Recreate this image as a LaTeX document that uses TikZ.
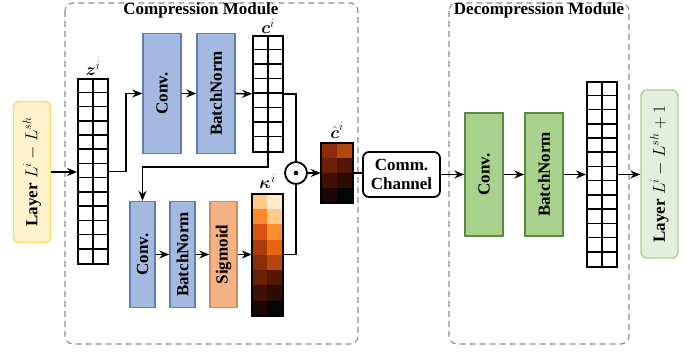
\documentclass[tikz,border=0pt]{standalone}
\usepackage{fontspec}
\setmainfont{Liberation Serif}
\usepackage{amsmath, amssymb}
\usepackage{graphicx}
\usepackage{xcolor}
\usepackage{tikz}
\usetikzlibrary{arrows.meta, positioning, calc}

\definecolor{convblue}{HTML}{A3B9DF}
\definecolor{convblueline}{HTML}{5D7EB3}
\definecolor{sigorange}{HTML}{F4B183}
\definecolor{sigorangeline}{HTML}{D38A5C}
\definecolor{decgreen}{HTML}{A9D18E}
\definecolor{decgreenline}{HTML}{5B8A3C}
\definecolor{inyellow}{HTML}{FFF2CC}
\definecolor{inyellowline}{HTML}{FFD966}
\definecolor{outgreen}{HTML}{E2EFDA}
\definecolor{outgreenline}{HTML}{A9D18E}

\begin{document}
\begin{tikzpicture}[
				x=1pt, y=-1pt,
				every node/.style={font=\bfseries\fontsize{17}{21}\selectfont},
				modbox/.style={draw=black!45, line width=1.1pt, rounded corners=8pt, dash pattern=on 6pt off 4pt},
				title/.style={inner sep=0pt},
				layerbox/.style={line width=1.4pt, rounded corners=6pt, minimum width=37pt, inner sep=0pt},
				opbox/.style={line width=1.4pt, inner sep=0pt},
				grid/.style={draw, line width=1.8pt, minimum width=30pt, inner sep=0pt},
				cellline/.style={line width=1.5pt},
				lbl/.style={inner sep=0pt},
				arr/.style={-{Stealth[length=10pt, width=8pt]}, line width=1.5pt},
				>=Stealth
				]
				\useasboundingbox (0,0) rectangle (699,352);
				% module frames
				\draw[modbox] (65,3) rectangle (358,344);
				\draw[modbox] (449,3) rectangle (629,344);
				\node[title] (cmtitle) at (201,10) {Compression Module};
				\node[title] (dmtitle) at (539,10) {Decompression Module};

				% input layer and z
				\node[layerbox, draw=inyellowline, fill=inyellow, minimum height=141pt] (lin) at (32,172) {\rotatebox{90}{Layer $L^{i}-L^{sh}$}};
				\node[grid, minimum height=185pt] (z) at (93,171.5) {};
				\foreach \k in {1,...,12}
					\draw[cellline] ($(z.north west)+(0,\k*14.23)$) -- ++(30,0);
				\draw[cellline] (z.north) -- (z.south);
				\node[lbl, above=2pt of z] (zlbl) {$\boldsymbol{z}^{i}$};

				% upper branch
				\node[opbox, draw=convblueline, fill=convblue, minimum width=38pt, minimum height=120pt] (conv1) at (162,93.5) {\rotatebox{90}{Conv.}};
				\node[opbox, draw=convblueline, fill=convblue, minimum width=38pt, minimum height=120pt] (bn1) at (216,93.5) {\rotatebox{90}{BatchNorm}};
				\node[grid, minimum height=116pt] (c) at (268,94) {};
				\foreach \k in {1,...,7}
					\draw[cellline] ($(c.north west)+(0,\k*14.5)$) -- ++(30,0);
				\draw[cellline] (c.north) -- (c.south);
				\node[lbl, above=1pt of c] (clbl) {$\boldsymbol{c}^{i}$};

				% lower branch
				\node[opbox, draw=convblueline, fill=convblue, minimum width=25pt, minimum height=106pt] (conv2) at (142.5,254.5) {\rotatebox{90}{Conv.}};
				\node[opbox, draw=convblueline, fill=convblue, minimum width=25pt, minimum height=106pt] (bn2) at (182.5,254.5) {\rotatebox{90}{BatchNorm}};
				\node[opbox, draw=sigorangeline, fill=sigorange, minimum width=27pt, minimum height=106pt] (sig) at (223.5,254.5) {\rotatebox{90}{Sigmoid}};
				\node[minimum width=31pt, minimum height=122pt, inner sep=0pt] (kappa) at (267.5,255) {};
				\foreach \r/\ca/\cb in {0/FFC98B/FDEBCB, 1/FB8A2C/FECB8D, 2/D8530F/FB8D2E, 3/A83C0A/E9640F,
						4/8E2D09/B3470F, 5/6B1F07/561607, 6/3F1006/2B0C04, 7/1B0805/050508}{
					\edef\tmp{\noexpand\definecolor{ca}{HTML}{\ca}\noexpand\definecolor{cb}{HTML}{\cb}}\tmp
					\fill[ca] ($(kappa.north west)+(0,\r*15.25)$) rectangle ++(15.5,15.25);
					\fill[cb] ($(kappa.north west)+(15.5,\r*15.25)$) rectangle ++(15.5,15.25);
				}
				\draw[line width=1.8pt] (kappa.north west) rectangle (kappa.south east);
				\node[lbl, above=5pt of kappa] (klbl) {$\boldsymbol{\kappa}^{i}$};

				% product and compressed code
				\node[circle, draw, line width=1.8pt, minimum size=22pt, inner sep=0pt] (odot) at (296,173) {};
				\fill (odot) circle (2.3);
				\node[minimum width=32pt, minimum height=60pt, inner sep=0pt] (chat) at (337,173) {};
				\foreach \r/\ca/\cb in {0/8E2D09/B3470F, 1/6B1F07/561607, 2/3F1006/2B0C04, 3/1B0805/050508}{
					\edef\tmp{\noexpand\definecolor{ca}{HTML}{\ca}\noexpand\definecolor{cb}{HTML}{\cb}}\tmp
					\fill[ca] ($(chat.north west)+(0,\r*15)$) rectangle ++(16,15);
					\fill[cb] ($(chat.north west)+(16,\r*15)$) rectangle ++(16,15);
				}
				\draw[line width=1.8pt] (chat.north west) rectangle (chat.south east);
				\node[lbl, above=4pt of chat] (chatlbl) {$\hat{\boldsymbol{c}}^{i}$};

				\node[draw, line width=1.8pt, rounded corners=6pt, fill=white, minimum width=77pt, minimum height=45pt, align=center, inner sep=1pt] (comm) at (401.5,174.5) {Comm.\\[-2pt]Channel};

				% decompression
				\node[opbox, draw=decgreenline, fill=decgreen, minimum width=38pt, minimum height=123pt] (dconv) at (484,174.5) {\rotatebox{90}{Conv.}};
				\node[opbox, draw=decgreenline, fill=decgreen, minimum width=38pt, minimum height=123pt] (dbn) at (544,174.5) {\rotatebox{90}{BatchNorm}};
				\node[grid, minimum height=185pt] (out) at (602,174.5) {};
				\foreach \k in {1,...,12}
					\draw[cellline] ($(out.north west)+(0,\k*14.23)$) -- ++(30,0);
				\draw[cellline] (out.north) -- (out.south);
				\node[layerbox, draw=outgreenline, fill=outgreen, minimum height=168pt] (lout) at (659.5,174) {\rotatebox{90}{Layer $L^{i}-L^{sh}+1$}};

				% connectors
				\draw[arr] (lin.east) -- (lin.east -| z.west);
				\draw[arr] (z.east) -- ++(17,0) |- (conv1.west);
				\draw[arr] (conv1) -- (bn1);
				\draw[arr] (bn1) -- (c);
				\draw[line width=1.5pt] (c.east) -| (odot.north);
				\draw[arr] (c.south) -- ++(0,14) -| (conv2.north);
				\draw[arr] (conv2) -- (bn2);
				\draw[arr] (bn2) -- (sig);
				\draw[arr] (sig) -- (sig -| kappa.west);
				\draw[line width=1.5pt] (kappa.east |- sig) -| (odot.south);
				\draw[arr] (odot) -- (chat);
				\draw[line width=1.5pt] (chat) -- (chat -| comm.west);
				\draw[arr] (comm) -- (dconv);
				\draw[arr] (dconv) -- (dbn);
				\draw[arr] (dbn) -- (out);
				\draw[arr] (out.east) -- (out.east -| lout.west);
			\end{tikzpicture}
\end{document}
